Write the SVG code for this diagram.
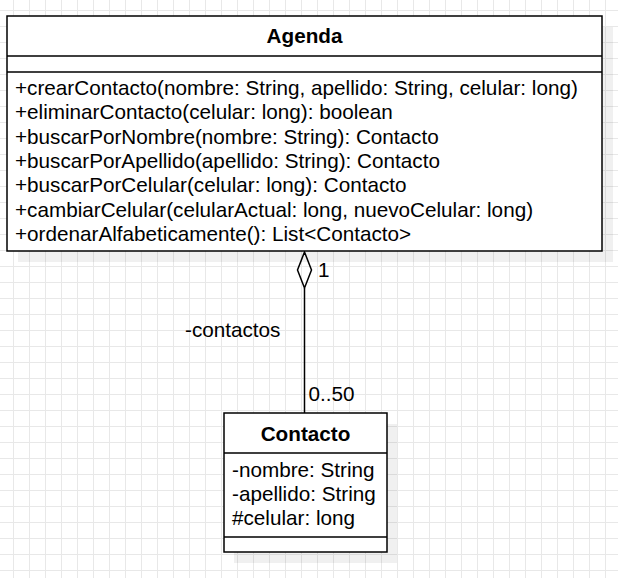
<svg xmlns="http://www.w3.org/2000/svg" width="618" height="578" viewBox="0 0 618 578">
<defs>
<pattern id="grid" patternUnits="userSpaceOnUse" x="0" y="0" width="16" height="16">
<path d="M13.5 0V16M0 10.5H16" stroke="#e8e8e8" stroke-width="1" fill="none"/>
</pattern>
</defs>
<style>
.box{fill:#fff;stroke:#000;stroke-width:1.5}
.sh{fill:#000;fill-opacity:0.06}
.sep{stroke:#000;stroke-width:1.5;fill:none}
.t{font-family:"Liberation Sans",Arial,sans-serif;font-size:20.7px;fill:#000}
.b{font-weight:bold;text-anchor:middle}
.edge{stroke:#000;stroke-width:1.5;fill:none}
</style>
<rect width="618" height="578" fill="#fff"/>
<rect width="618" height="578" fill="url(#grid)"/>
<g id="connectors">
<path class="edge" d="M304.5 288V413"/>
<path class="edge" d="M304.5 252L311.5 270L304.5 288L297.5 270Z" fill="#fff"/>
<text class="t" x="318" y="277">1</text>
<text class="t" x="185" y="337">-contactos</text>
<text class="t" x="308.5" y="401">0..50</text>
</g>
<g id="agenda">
<rect class="sh" x="18" y="27" width="595" height="235"/>
<rect class="box" x="7" y="16" width="595" height="235"/>
<path class="sep" d="M7 56H602M7 72H602"/>
<text class="t b" x="304.5" y="43">Agenda</text>
<text class="t" x="15" y="95">+crearContacto(nombre: String, apellido: String, celular: long)</text>
<text class="t" x="15" y="119.3">+eliminarContacto(celular: long): boolean</text>
<text class="t" x="15" y="143.7">+buscarPorNombre(nombre: String): Contacto</text>
<text class="t" x="15" y="168">+buscarPorApellido(apellido: String): Contacto</text>
<text class="t" x="15" y="192.3">+buscarPorCelular(celular: long): Contacto</text>
<text class="t" x="15" y="216.7">+cambiarCelular(celularActual: long, nuevoCelular: long)</text>
<text class="t" x="15" y="241">+ordenarAlfabeticamente(): List&lt;Contacto&gt;</text>
</g>
<g id="contacto">
<rect class="sh" x="234" y="424" width="163" height="139"/>
<rect class="box" x="224" y="413" width="163" height="139"/>
<path class="sep" d="M224 453H387M224 537H387"/>
<text class="t b" x="305.5" y="441">Contacto</text>
<text class="t" x="232" y="477">-nombre: String</text>
<text class="t" x="232" y="501">-apellido: String</text>
<text class="t" x="232" y="525">#celular: long</text>
</g>
</svg>
